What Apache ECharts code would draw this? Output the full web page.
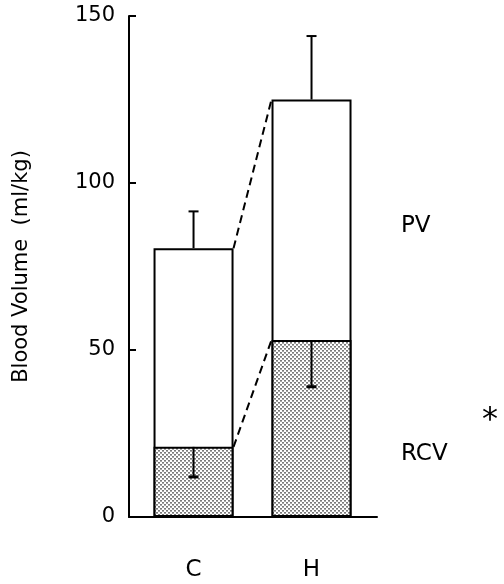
<!DOCTYPE html>
<html>
<head>
<meta charset="utf-8">
<script src="https://cdn.jsdelivr.net/npm/echarts@6/dist/echarts.min.js"></script>
<style>
  html, body { margin: 0; padding: 0; background: #fff; }
  #chart { width: 504px; height: 584px; }
</style>
</head>
<body>
<div id="chart"></div>
<script>
// groups on the x axis
var categories = ['C', 'H'];
// red cell volume (bottom, shaded) and plasma volume (top, white), ml/kg
var rcv = [21, 53];
var pv = [59.5, 72];
// error bars: RCV downward, total (RCV + PV) upward
var rcvErr = [9, 14];
var totalErr = [11, 19];
var yTicks = [0, 50, 100, 150];

var total = rcv.map(function (v, i) { return v + pv[i]; });
var xIdx = categories.map(function (c, i) { return i; });

// dotted grey fill for the RCV part
function dotPattern() {
  var c = document.createElement('canvas');
  c.width = 4; c.height = 4;
  var ctx = c.getContext('2d');
  ctx.fillStyle = '#fff';
  ctx.fillRect(0, 0, 4, 4);
  ctx.fillStyle = '#7a7a7a';
  ctx.fillRect(0, 0, 2, 1);
  ctx.fillRect(2, 2, 2, 1);
  ctx.fillStyle = '#a8a8a8';
  ctx.fillRect(0, 1, 2, 1);
  ctx.fillRect(2, 3, 2, 1);
  return c;
}

var FONT = 'DejaVu Sans';
var BAR_W = 80;
var X_MIN = -0.547;

var chart = echarts.init(document.getElementById('chart'));
chart.setOption({
  backgroundColor: '#fff',
  animation: false,
  grid: { left: 129, right: 127, top: 16, bottom: 67 },
  xAxis: {
    type: 'value',
    min: X_MIN,
    max: 1.555,
    axisLine: { show: true, onZero: false, lineStyle: { color: '#000', width: 2 } },
    axisTick: { show: false },
    splitLine: { show: false },
    axisLabel: {
      customValues: xIdx,
      color: '#000', fontFamily: FONT, fontSize: 23, margin: 42,
      formatter: function (v) { return categories[Math.round(v)] || ''; }
    }
  },
  yAxis: {
    type: 'value',
    min: 0,
    max: 150,
    interval: 50,
    name: 'Blood Volume  (ml/kg)',
    nameLocation: 'middle',
    nameGap: 97,
    nameTextStyle: { color: '#000', fontFamily: FONT, fontSize: 21 },
    axisLine: { show: true, onZero: false, lineStyle: { color: '#000', width: 2 } },
    axisTick: { show: false },
    axisLabel: {
      color: '#000', fontFamily: FONT, fontSize: 21, margin: 14,
      formatter: function (v) { return yTicks.indexOf(v) >= 0 ? String(v) : ''; }
    },
    splitLine: { show: false }
  },
  series: [
    {
      // whole bar (RCV + PV), white
      name: 'PV',
      type: 'bar',
      barWidth: BAR_W,
      barGap: '-100%',
      z: 2,
      data: xIdx.map(function (i) { return [i, total[i]]; }),
      itemStyle: { color: '#fff', borderColor: '#000', borderWidth: 2 }
    },
    {
      // RCV part drawn over the bottom of it
      name: 'RCV',
      type: 'bar',
      barWidth: BAR_W,
      barGap: '-100%',
      z: 3,
      data: xIdx.map(function (i) { return [i, rcv[i]]; }),
      itemStyle: { color: { image: dotPattern(), repeat: 'repeat' }, borderColor: '#000', borderWidth: 2 }
    },
    {
      // y axis ticks pointing into the plot
      type: 'custom',
      z: 6,
      data: yTicks.map(function (v) { return [X_MIN, v]; }),
      renderItem: function (params, api) {
        var p = api.coord([api.value(0), api.value(1)]);
        return { type: 'line', shape: { x1: p[0], y1: p[1], x2: p[0] + 7, y2: p[1] }, style: { stroke: '#000', lineWidth: 2 } };
      }
    },
    {
      // error bars
      type: 'custom',
      z: 5,
      data: xIdx.map(function (i) { return [i, rcv[i], rcvErr[i], total[i], totalErr[i]]; }),
      renderItem: function (params, api) {
        var i = api.value(0);
        var r = api.coord([i, api.value(1)]);
        var rLo = api.coord([i, api.value(1) - api.value(2)]);
        var t = api.coord([i, api.value(3)]);
        var tHi = api.coord([i, api.value(3) + api.value(4)]);
        var cap = 5;
        var st = { stroke: '#000', lineWidth: 2 };
        return {
          type: 'group',
          children: [
            { type: 'line', shape: { x1: r[0], y1: r[1], x2: rLo[0], y2: rLo[1] }, style: st },
            { type: 'line', shape: { x1: rLo[0] - cap, y1: rLo[1], x2: rLo[0] + cap, y2: rLo[1] }, style: { stroke: '#000', lineWidth: 3 } },
            { type: 'line', shape: { x1: t[0], y1: t[1], x2: tHi[0], y2: tHi[1] }, style: st },
            { type: 'line', shape: { x1: tHi[0] - cap, y1: tHi[1], x2: tHi[0] + cap, y2: tHi[1] }, style: st }
          ]
        };
      }
    },
    {
      // dashed connectors between the two bars
      type: 'custom',
      z: 4,
      data: [[rcv[0], rcv[1], total[0], total[1]]],
      renderItem: function (params, api) {
        var half = BAR_W / 2;
        var a1 = api.coord([xIdx[0], api.value(0)]);
        var b1 = api.coord([xIdx[1], api.value(1)]);
        var a2 = api.coord([xIdx[0], api.value(2)]);
        var b2 = api.coord([xIdx[1], api.value(3)]);
        var st = { stroke: '#000', lineWidth: 2, lineDash: [8, 5] };
        return {
          type: 'group',
          children: [
            { type: 'line', shape: { x1: a1[0] + half, y1: a1[1], x2: b1[0] - half, y2: b1[1] }, style: st },
            { type: 'line', shape: { x1: a2[0] + half, y1: a2[1], x2: b2[0] - half, y2: b2[1] }, style: st }
          ]
        };
      }
    }
  ],
  graphic: [
    { type: 'text', left: 401, top: 215, style: { text: 'PV', font: '23px "DejaVu Sans"', fill: '#000' } },
    { type: 'text', left: 401, top: 443, style: { text: 'RCV', font: '23px "DejaVu Sans"', fill: '#000' } },
    { type: 'text', left: 482, top: 405, style: { text: '*', font: '32px "DejaVu Sans"', fill: '#000' } }
  ]
});
</script>
</body>
</html>
